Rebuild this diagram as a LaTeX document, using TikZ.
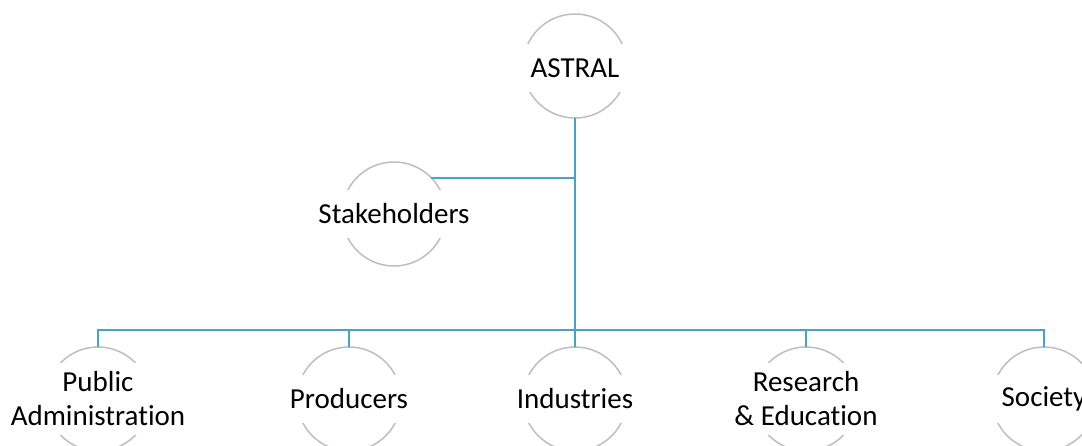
\documentclass[tikz,border=0pt]{standalone}
\usepackage{fontspec}
\setmainfont{Carlito}[Ligatures={NoCommon}]
\definecolor{linkblue}{RGB}{75,163,192}
\definecolor{ringgray}{RGB}{190,190,190}

\begin{document}
\begin{tikzpicture}
[x=0.5pt, y=-0.5pt, font=\fontsize{14.5}{17}\selectfont,
 ring/.style={circle, draw=ringgray, line width=0.75pt, minimum size=52pt, inner sep=0, outer sep=0},
 tag/.style={fill=white, align=center, minimum width=56pt, minimum height=24pt, inner xsep=2pt, inner ysep=4.5pt},
 link/.style={draw=linkblue, line width=1.25pt}]
\useasboundingbox (0, 0) rectangle (1082, 445);
% top and middle
\node (astral) [ring] at (575, 66) {};
\node (stake) [ring] at (394, 214) {};
% bottom row
\node (pubadm) [ring] at (98, 399) {};
\node (prod) [ring] at (349, 399) {};
\node (ind) [ring] at (575, 399) {};
\node (res) [ring] at (806, 399) {};
\node (soc) [ring] at (1044, 399) {};
\coordinate (branch) at (astral |- stake.44);
\coordinate (bar) at (575, 330);
\draw [link] (astral) -- (bar);
\draw [link] (branch) -- (stake.44);
\draw [link] (pubadm.north) |- (bar) -| (soc.north);
\foreach \n in {prod, ind, res}
  \draw [link] (\n.north) -- (\n.north |- bar);
% labels
\node (astral-t) [tag] at ([yshift=-1pt]astral) {ASTRAL};
\node (stake-t) [tag] at (stake) {Stakeholders};
\node (pubadm-t) [tag] at (pubadm) {Public\\Administration};
\node (prod-t) [tag] at (prod) {Producers};
\node (ind-t) [tag] at (ind) {Industries};
\node (res-t) [tag] at (res) {Research\\\& Education};
\node (soc-t) [tag] at (soc) {Society};
\end{tikzpicture}
\end{document}
